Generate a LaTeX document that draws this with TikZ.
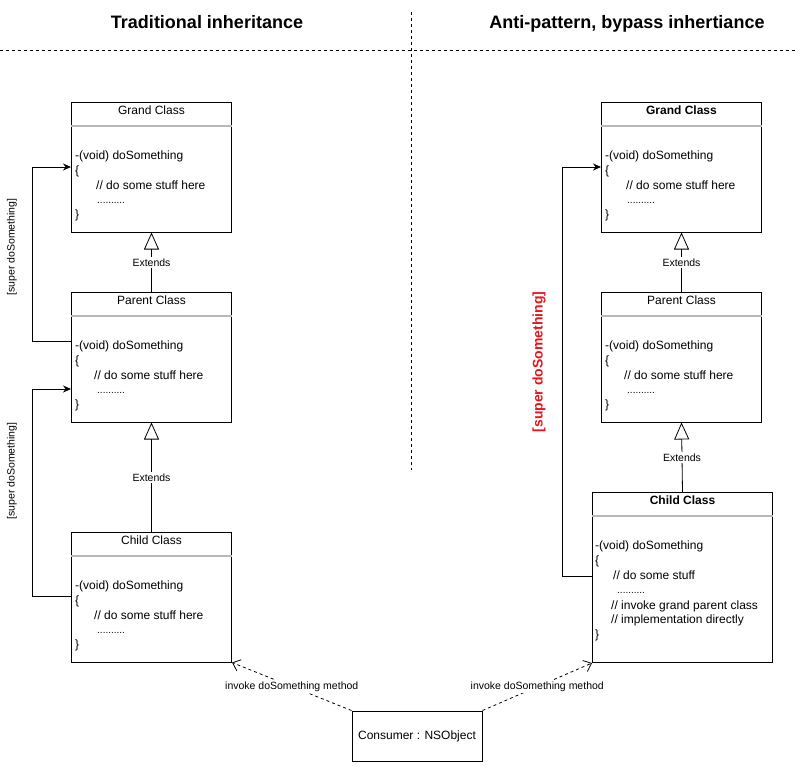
\documentclass[tikz,border=0pt]{standalone}
\usepackage{fontspec}
\setmainfont{Liberation Sans}
\usetikzlibrary{arrows.meta,calc}
\definecolor{antired}{RGB}{232,20,27}
\begin{document}
\begin{tikzpicture}[x=1pt,y=-1pt,
  every node/.style={font=\fontsize{12}{14}\selectfont, inner sep=0pt},
  cls/.style={draw, line width=1pt, anchor=north west, minimum width=160pt, minimum height=129.5pt},
  hsep/.style={draw=black!28, line width=1.6pt},
  code/.style={anchor=base west},
  dots/.style={anchor=base west, font=\fontsize{10}{12}\selectfont},
  hdr/.style={anchor=base},
  hdrb/.style={anchor=base, font=\bfseries\fontsize{12}{14}\selectfont},
  heading/.style={anchor=base, font=\bfseries\fontsize{18}{20}\selectfont},
  small/.style={font=\fontsize{10.5}{12}\selectfont, fill=white, inner sep=1.5pt},
  ext/.style={line width=0.8pt, -{Triangle[open,length=17pt,width=15pt,line width=0.8pt]}},
  call/.style={line width=0.8pt, -{Stealth[length=8pt,width=7pt]}},
  use/.style={line width=0.8pt, dash pattern=on 3pt off 3pt, -{Straight Barb[length=7pt,width=12pt,line width=0.8pt]}},
  divider/.style={line width=0.8pt, dash pattern=on 3pt off 3pt}
]
\useasboundingbox (0,0) rectangle (795,766);

% headings and dividers
\node[heading] (t1) at (207,28) {Traditional inheritance};
\node[heading] (t2) at (627,28) {Anti-pattern, bypass inhertiance};
\draw[divider] (0,50) -- (795,50);
\draw[divider] (411.5,12) -- (411.5,470);

% ---------- left column ----------
\node[cls] (gL) at (71,102) {};
\node[hdr] (gLh) at ($(gL.north)+(0,12.5)$) {Grand Class};
\draw[hsep] ([yshift=-24pt]gL.north west) -- ([yshift=-24pt]gL.north east);
\node[code] (gL1) at ($(gL.north west)+(4,57)$) {-(void) doSomething};
\node[code] (gL2) at ($(gL.north west)+(4,72)$) {\{};
\node[code] (gL3) at ($(gL.north west)+(25,87)$) {// do some stuff here};
\node[dots] (gL4) at ($(gL.north west)+(26,101)$) {..........};
\node[code] (gL5) at ($(gL.north west)+(4,116)$) {\}};

\node[cls] (pL) at (71,292) {};
\node[hdr] (pLh) at ($(pL.north)+(0,12.5)$) {Parent Class};
\draw[hsep] ([yshift=-24pt]pL.north west) -- ([yshift=-24pt]pL.north east);
\node[code] (pL1) at ($(pL.north west)+(4,57)$) {-(void) doSomething};
\node[code] (pL2) at ($(pL.north west)+(4,72)$) {\{};
\node[code] (pL3) at ($(pL.north west)+(23,87)$) {// do some stuff here};
\node[dots] (pL4) at ($(pL.north west)+(26,101)$) {..........};
\node[code] (pL5) at ($(pL.north west)+(4,116)$) {\}};

\node[cls] (cL) at (71,532) {};
\node[hdr] (cLh) at ($(cL.north)+(0,12.5)$) {Child Class};
\draw[hsep] ([yshift=-24pt]cL.north west) -- ([yshift=-24pt]cL.north east);
\node[code] (cL1) at ($(cL.north west)+(4,57)$) {-(void) doSomething};
\node[code] (cL2) at ($(cL.north west)+(4,72)$) {\{};
\node[code] (cL3) at ($(cL.north west)+(23,87)$) {// do some stuff here};
\node[dots] (cL4) at ($(cL.north west)+(26,101)$) {..........};
\node[code] (cL5) at ($(cL.north west)+(4,116)$) {\}};

\draw[ext] (pL.north) -- node[small] (e1) {Extends} (gL.south);
\draw[ext] (cL.north) -- node[small] (e2) {Extends} (pL.south);

\draw[call] (pL.west |- 0,341) -- (32,341) -- (32,167) -- (gL.west |- 0,167);
\draw[call] (cL.west |- 0,596) -- (32,596) -- (32,389) -- (pL.west |- 0,389);
\node[small, fill=none, rotate=90] (s1) at (12,247) {[super doSomething]};
\node[small, fill=none, rotate=90] (s2) at (12,471) {[super doSomething]};

% ---------- right column ----------
\node[cls] (gR) at (601,102) {};
\node[hdrb] (gRh) at ($(gR.north)+(0,12.5)$) {Grand Class};
\draw[hsep] ([yshift=-24pt]gR.north west) -- ([yshift=-24pt]gR.north east);
\node[code] (gR1) at ($(gR.north west)+(4,57)$) {-(void) doSomething};
\node[code] (gR2) at ($(gR.north west)+(4,72)$) {\{};
\node[code] (gR3) at ($(gR.north west)+(25,87)$) {// do some stuff here};
\node[dots] (gR4) at ($(gR.north west)+(26,101)$) {..........};
\node[code] (gR5) at ($(gR.north west)+(4,116)$) {\}};

\node[cls] (pR) at (601,292) {};
\node[hdr] (pRh) at ($(pR.north)+(0,12.5)$) {Parent Class};
\draw[hsep] ([yshift=-24pt]pR.north west) -- ([yshift=-24pt]pR.north east);
\node[code] (pR1) at ($(pR.north west)+(4,57)$) {-(void) doSomething};
\node[code] (pR2) at ($(pR.north west)+(4,72)$) {\{};
\node[code] (pR3) at ($(pR.north west)+(23,87)$) {// do some stuff here};
\node[dots] (pR4) at ($(pR.north west)+(26,101)$) {..........};
\node[code] (pR5) at ($(pR.north west)+(4,116)$) {\}};

\node[cls, minimum width=180pt, minimum height=170pt] (cR) at (592,492) {};
\node[hdrb] (cRh) at ($(cR.north)+(0,12.5)$) {Child Class};
\draw[hsep] ([yshift=-24pt]cR.north west) -- ([yshift=-24pt]cR.north east);
\node[code] (cR1) at ($(cR.north west)+(3,57)$) {-(void) doSomething};
\node[code] (cR2) at ($(cR.north west)+(3,72)$) {\{};
\node[code] (cR3) at ($(cR.north west)+(21,87)$) {// do some stuff};
\node[dots] (cR4) at ($(cR.north west)+(25,101)$) {..........};
\node[code] (cR5) at ($(cR.north west)+(19,117)$) {// invoke grand parent class};
\node[code] (cR6) at ($(cR.north west)+(19,131)$) {// implementation directly};
\node[code] (cR7) at ($(cR.north west)+(3,146)$) {\}};

\draw[ext] (pR.north) -- node[small] (e3) {Extends} (gR.south);
\draw[ext] (cR.north) -- node[small] (e4) {Extends} (pR.south);

\draw[call] (cR.west |- 0,576) -- (562,576) -- (562,167) -- (gR.west |- 0,167);
\node[rotate=90, text=antired, font=\bfseries\fontsize{14}{16}\selectfont] (s3) at (539,362) {[super doSomething]};

% ---------- consumer ----------
\node[draw, line width=1pt, minimum width=130pt, minimum height=50pt] (cons) at (417,736) {Consumer : NSObject};
\draw[use] (cons.north west) -- node[small] (i1) {invoke doSomething method} (cL.south east);
\draw[use] (cons.north east) -- node[small] (i2) {invoke doSomething method} (cR.south west);
\end{tikzpicture}
\end{document}
